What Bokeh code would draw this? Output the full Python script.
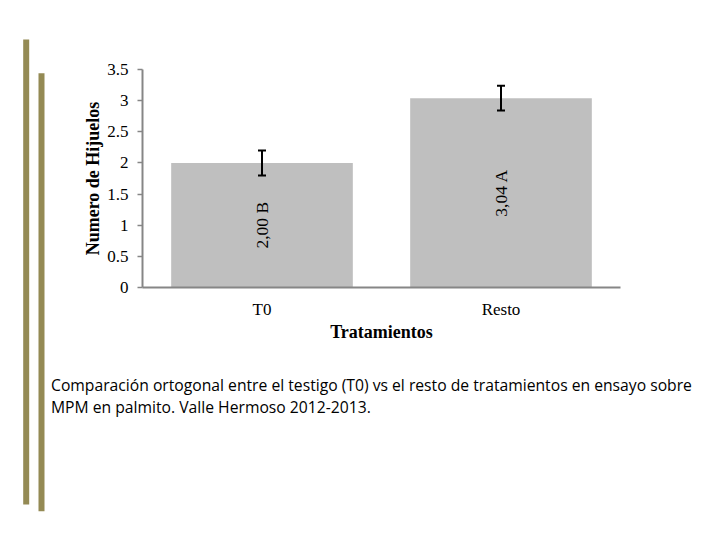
import math
from bokeh.plotting import figure
from bokeh.layouts import row, column
from bokeh.models import ColumnDataSource, Whisker, FixedTicker, Range1d, Div
from bokeh.models.annotations import TeeHead
from bokeh.core.properties import value
from bokeh.embed import file_html
from bokeh.resources import INLINE

categories = ["T0", "Resto"]
means = [2.00, 3.04]
errors = [0.20, 0.20]
bar_labels = ["2,00 B", "3,04 A"]
y_ticks = [0, 0.5, 1, 1.5, 2, 2.5, 3, 3.5]
y_tick_labels = ["0", "0.5", "1", "1.5", "2", "2.5", "3", "3.5"]
x_title = "Tratamientos"
y_title = "Numero de Hijuelos"
caption_lines = [
    "Comparación ortogonal entre el testigo (T0) vs el resto de tratamientos en ensayo sobre",
    "MPM en palmito. Valle Hermoso 2012-2013.",
]

SERIF = "Liberation Serif"
OLIVE = "#948A54"
AXIS = "#868686"

# ---- decorative left strip (olive vertical rules) ----
deco = figure(width=48, height=540, x_range=Range1d(0, 48), y_range=Range1d(540, 0),
              output_backend="svg", toolbar_location=None,
              x_axis_location=None, y_axis_location=None,
              min_border=0, min_border_left=0, min_border_right=0,
              min_border_top=0, min_border_bottom=0)
deco.outline_line_color = None
deco.grid.grid_line_color = None
deco.quad(left=[22.7, 38], right=[28.7, 44], top=[39, 72.7], bottom=[504, 510.7],
          fill_color=OLIVE, line_color=None)

# ---- main chart ----
src = ColumnDataSource(dict(
    cat=categories,
    mean=means,
    half=[m / 2 for m in means],
    upper=[m + e for m, e in zip(means, errors)],
    lower=[m - e for m, e in zip(means, errors)],
    lab=bar_labels,
))

p = figure(
    width=672, height=370, x_range=categories, y_range=Range1d(0, 3.5),
    output_backend="svg", toolbar_location=None,
    min_border_left=94, min_border_right=100, min_border_top=69, min_border_bottom=83,
)
p.outline_line_color = None
p.grid.grid_line_color = None
p.x_range.range_padding = 0.0

p.vbar(x="cat", top="mean", width=0.76, source=src, fill_color="#BFBFBF", line_color=None)

p.add_layout(Whisker(
    source=src, base="cat", upper="upper", lower="lower", level="overlay",
    line_color="black", line_width=2,
    upper_head=TeeHead(size=8, line_color="black", line_width=2),
    lower_head=TeeHead(size=8, line_color="black", line_width=2),
))

p.text(x="cat", y="half", text="lab", source=src, angle=math.pi / 2,
       text_align="center", text_baseline="middle",
       text_font=value(SERIF), text_font_size="17.5px", text_color="black")

ya = p.yaxis[0]
ya.ticker = FixedTicker(ticks=y_ticks)
ya.major_label_overrides = {t: l for t, l in zip(y_ticks, y_tick_labels)}
ya.axis_line_color = AXIS
ya.axis_line_width = 2
ya.major_tick_line_color = AXIS
ya.major_tick_line_width = 1.5
ya.major_tick_out = 5
ya.major_tick_in = 0
ya.minor_tick_line_color = None
ya.major_label_text_font = SERIF
ya.major_label_text_font_size = "17px"
ya.major_label_text_color = "black"
ya.major_label_standoff = 9
ya.axis_label = y_title
ya.axis_label_text_font = SERIF
ya.axis_label_text_font_style = "bold"
ya.axis_label_text_font_size = "18px"
ya.axis_label_text_color = "black"
ya.axis_label_standoff = 1

xa = p.xaxis[0]
xa.axis_line_color = AXIS
xa.axis_line_width = 2
xa.major_tick_line_color = None
xa.minor_tick_line_color = None
xa.major_label_text_font = SERIF
xa.major_label_text_font_size = "17px"
xa.major_label_text_color = "black"
xa.major_label_standoff = 6
xa.axis_label = x_title
xa.axis_label_text_font = SERIF
xa.axis_label_text_font_style = "bold"
xa.axis_label_text_font_size = "18px"
xa.axis_label_text_color = "black"
xa.axis_label_standoff = 0

# ---- caption ----
cap = Div(
    text="<br>".join(caption_lines),
    width=672, height=170, margin=(0, 0, 0, 0),
    styles={"font-family": "'Open Sans'", "font-size": "15.7px", "line-height": "22px",
            "color": "black", "white-space": "nowrap", "padding-left": "3px",
            "padding-top": "4px"},
)

layout = row(deco, column(p, cap, spacing=0), spacing=0)
open("out.html", "w").write(file_html(layout, INLINE))
